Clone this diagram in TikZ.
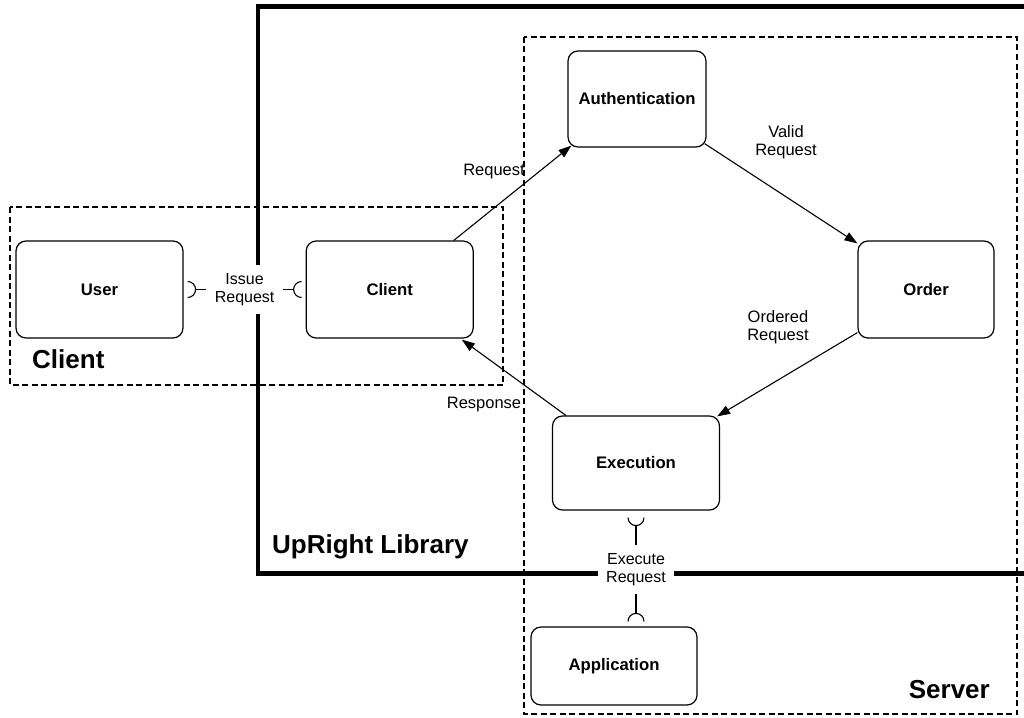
\documentclass[tikz,border=0pt]{standalone}
\usepackage{fontspec}
\setmainfont{Liberation Sans}
\usetikzlibrary{arrows.meta,positioning}

\tikzset{
  box/.style={shape=rectangle, rounded corners=10pt, draw=black, line width=1.2pt,
    minimum width=167pt, minimum height=97pt, inner sep=0pt,
    font=\bfseries\fontsize{16.7}{19}\selectfont},
  zone/.style={draw=black, line width=1.1pt, dash pattern=on 6pt off 3.5pt},
  flow/.style={-{Triangle[length=13pt,width=9pt]}, line width=1.1pt},
  lbl/.style={align=center, inner sep=0pt, font=\fontsize{16.5}{18.5}\selectfont},
  iface/.style={fill=white, align=center, inner sep=8.5pt, font=\fontsize{16}{18.5}\selectfont},
  sock/.style={line width=1.1pt},
  title/.style={inner sep=0pt, font=\bfseries\fontsize{26}{30}\selectfont}
}

\begin{document}
\begin{tikzpicture}[x=1pt, y=-1pt]
      \useasboundingbox (0,0) rectangle (1024,717);

      \draw[zone] (10,207) rectangle (503,385);
      \draw[zone] (524,37) rectangle (1017,714);
      \draw[line width=4.5pt] (1024,6.5) -- (258,6.5) -- (258,573.5) -- (1024,573.5);

      \node[box] (User) at (99.5,289.5) {User};
      \node[box] (Client) [right = 122pt of User] {Client};
      \node[box, minimum width=138pt, minimum height=96pt] (Authentication)
           at (637,99) {Authentication};
      \node[box, minimum width=136pt] (Order) at (926,289.5) {Order};
      \node[box, minimum height=94pt] (Execution) at (636,463) {Execution};
      \node[box, minimum width=166pt, minimum height=78pt] (Application)
           at (614,666) {Application};

      \coordinate (userTip) at ([xshift=12pt]User.east);
      \coordinate (clientTip) at ([xshift=-12pt]Client.west);
      \coordinate (execTip) at ([yshift=-15pt]Execution.south);
      \coordinate (appTip) at ([xshift=22pt,yshift=13pt]Application.north);

      \draw[sock] ([xshift=-8pt,yshift=8pt]userTip) arc[start angle=90, end angle=-90, radius=8pt];
      \draw[sock] ([xshift=8pt,yshift=8pt]clientTip) arc[start angle=90, end angle=270, radius=8pt];
      \draw[sock] ([xshift=-8pt,yshift=8pt]execTip) arc[start angle=180, end angle=360, radius=8pt];
      \draw[sock] ([xshift=-8pt,yshift=-8pt]appTip) arc[start angle=180, end angle=0, radius=8pt];
      \draw[sock] (userTip) -- node[iface] (issue) {Issue\\Request} (clientTip);
      \draw[sock] (execTip) -- node[iface] (execute) {Execute\\Request} (appTip);

      \draw[flow] ([xshift=-20pt]Client.north east) -- ([xshift=4pt,yshift=2pt]Authentication.south west);
      \draw[flow] ([xshift=-2pt,yshift=4pt]Authentication.south east) -- ([yshift=-3pt]Order.north west);
      \draw[flow] ([yshift=6pt]Order.south west) -- ([xshift=-3pt,yshift=-1pt]Execution.north east);
      \draw[flow] ([xshift=14pt]Execution.north west) -- ([xshift=-12pt,yshift=-1pt]Client.south east);

      \node[lbl] (reqLbl) at (494,172) {Request};
      \node[lbl] (validLbl) at (786,142) {Valid\\Request};
      \node[lbl] (orderedLbl) at (778,327) {Ordered\\Request};
      \node[lbl] (respLbl) at (484,405) {Response};

      \node[title, anchor=base west] (clientTitle) at (32,368) {Client};
      \node[title, anchor=base west] (libTitle) at (272,553) {UpRight Library};
      \node[title, anchor=base east] (serverTitle) at (990,698) {Server};
\end{tikzpicture}
\end{document}
